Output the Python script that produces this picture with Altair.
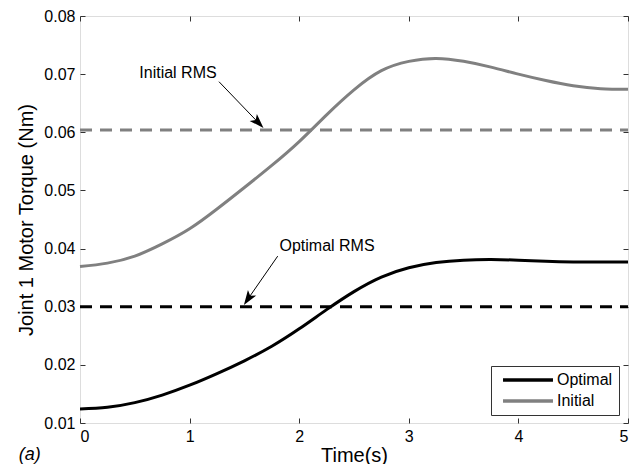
import altair as alt
import pandas as pd

# ---------------- data ----------------
time = [0.0, 0.25, 0.5, 0.75, 1.0, 1.25, 1.5, 1.75, 2.0, 2.25, 2.5,
        2.75, 3.0, 3.25, 3.5, 3.75, 4.0, 4.25, 4.5, 4.75, 5.0]
optimal = [0.0124, 0.0127, 0.0135, 0.0148, 0.0165, 0.0185, 0.0207, 0.0232,
           0.0262, 0.0295, 0.0326, 0.0351, 0.0367, 0.0376, 0.0380, 0.0381,
           0.0380, 0.0378, 0.0377, 0.0377, 0.0377]
initial = [0.0369, 0.0375, 0.0387, 0.0408, 0.0434, 0.0468, 0.0505, 0.0543,
           0.0584, 0.0630, 0.0673, 0.0706, 0.0722, 0.0727, 0.0722, 0.0712,
           0.0700, 0.0689, 0.0680, 0.0675, 0.0674]
series = ["Optimal", "Initial"]
series_colors = ["#000000", "#808080"]

rms_optimal = 0.0300
rms_initial = 0.0604
rms_span = [0.0, 5.0]

x_ticks = [0, 1, 2, 3, 4, 5]
y_ticks = [0.01, 0.02, 0.03, 0.04, 0.05, 0.06, 0.07, 0.08]
x_domain = [0, 5]
y_domain = [0.01, 0.08]

annot_text = ["Initial RMS", "Optimal RMS"]
annot_x = [0.894, 2.254]
annot_y = [0.0702, 0.0404]
arrow_start_x = [1.268, 1.804]
arrow_start_y = [0.0687, 0.0387]
arrow_end_x = [1.625, 1.535]
arrow_end_y = [0.0617, 0.0314]

FONT = "Liberation Sans"
ARROW = "M0,-1 L0.65,0.9 L0,0.45 L-0.65,0.9 Z"
LEGEND_LINE = "M-4,0 L4,0"

# ---------------- tables ----------------
curves = pd.DataFrame({
    "t": time * 2,
    "v": optimal + initial,
    "series": [series[0]] * len(time) + [series[1]] * len(time),
})
rms_opt_df = pd.DataFrame({"t": rms_span, "v": [rms_optimal] * 2})
rms_init_df = pd.DataFrame({"t": rms_span, "v": [rms_initial] * 2})
annot_df = pd.DataFrame({"text": annot_text, "t": annot_x, "v": annot_y})
arrows_df = pd.DataFrame({
    "t": arrow_start_x, "v": arrow_start_y,
    "t2": arrow_end_x, "v2": arrow_end_y,
})
head_init_df = arrows_df.iloc[[0]]
head_opt_df = arrows_df.iloc[[1]]

xs = alt.Scale(domain=x_domain, nice=False, zero=False)
ys = alt.Scale(domain=y_domain, nice=False, zero=False)

x_bottom = alt.Axis(orient="bottom", values=x_ticks, format="d", offset=-5,
                    tickSize=5, tickColor="#333333", domain=False, grid=False,
                    labelFont=FONT, labelFontSize=16, labelColor="black",
                    labelPadding=5, title="Time(s)", titleFont=FONT,
                    titleFontSize=20, titleFontWeight="normal",
                    titleColor="black", titlePadding=1)
y_left = alt.Axis(orient="left", values=y_ticks, format=".2f", offset=-5,
                  tickSize=5, tickColor="#333333", domain=False, grid=False,
                  labelFont=FONT, labelFontSize=16, labelColor="black",
                  labelPadding=5, title="Joint 1 Motor Torque (Nm)",
                  titleFont=FONT, titleFontSize=20, titleFontWeight="normal",
                  titleColor="black", titlePadding=7)
x_top = alt.Axis(orient="top", values=x_ticks, offset=-5, tickSize=5,
                 tickColor="#333333", domain=False, grid=False, labels=False,
                 title=None)
y_right = alt.Axis(orient="right", values=y_ticks, offset=-5, tickSize=5,
                   tickColor="#333333", domain=False, grid=False, labels=False,
                   title=None)

lines = alt.Chart(curves).mark_line(strokeWidth=3, interpolate="natural").encode(
    x=alt.X("t:Q", scale=xs, axis=x_bottom),
    y=alt.Y("v:Q", scale=ys, axis=y_left),
    color=alt.Color("series:N",
                    scale=alt.Scale(domain=series, range=series_colors),
                    legend=alt.Legend(orient="none", legendX=411, legendY=350,
                                      title=None, symbolType=LEGEND_LINE,
                                      symbolSize=156, symbolStrokeWidth=3.5,
                                      labelFont=FONT, labelFontSize=16,
                                      labelColor="black", labelOffset=21,
                                      symbolOffset=23,
                                      rowPadding=5, padding=6,
                                      strokeColor="#333333", fillColor="white")),
)

rms_opt = alt.Chart(rms_opt_df).mark_line(
    strokeWidth=3, strokeDash=[12, 8], color="#000000").encode(
    x=alt.X("t:Q", scale=xs, axis=x_top),
    y=alt.Y("v:Q", scale=ys, axis=y_right),
)
rms_init = alt.Chart(rms_init_df).mark_line(
    strokeWidth=3, strokeDash=[12, 8], color="#808080").encode(
    x=alt.X("t:Q", scale=xs, axis=None),
    y=alt.Y("v:Q", scale=ys, axis=None),
)

labels = alt.Chart(annot_df).mark_text(font=FONT, fontSize=16, color="black").encode(
    x=alt.X("t:Q", scale=xs, axis=None),
    y=alt.Y("v:Q", scale=ys, axis=None),
    text="text:N",
)
arrow_lines = alt.Chart(arrows_df).mark_rule(color="black", strokeWidth=1).encode(
    x=alt.X("t:Q", scale=xs, axis=None),
    y=alt.Y("v:Q", scale=ys, axis=None),
    x2="t2:Q",
    y2="v2:Q",
)
head_init = alt.Chart(head_init_df).mark_point(
    shape=ARROW, filled=True, color="black", size=240, angle=136, opacity=1).encode(
    x=alt.X("t2:Q", scale=xs, axis=None),
    y=alt.Y("v2:Q", scale=ys, axis=None),
)
head_opt = alt.Chart(head_opt_df).mark_point(
    shape=ARROW, filled=True, color="black", size=240, angle=214, opacity=1).encode(
    x=alt.X("t2:Q", scale=xs, axis=None),
    y=alt.Y("v2:Q", scale=ys, axis=None),
)

chart = alt.layer(
    rms_init, rms_opt, lines, arrow_lines, head_init, head_opt, labels
).resolve_axis(x="independent", y="independent").properties(
    width=548,
    height=407,
    autosize=alt.AutoSizeParams(type="none"),
    padding={"left": 72, "top": 8, "right": 3, "bottom": 41},
    title=alt.TitleParams("(a)", orient="bottom", anchor="start", font=FONT,
                          fontSize=18, fontStyle="italic", fontWeight="normal",
                          color="black", dx=2, offset=-19),
).configure_view(stroke="#333333", strokeWidth=1).configure(background="white")

chart.save("out.html", embed_options={"renderer": "svg", "actions": False})
